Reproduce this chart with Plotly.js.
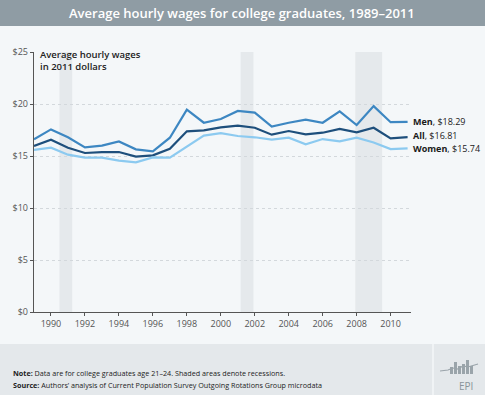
<!DOCTYPE html>
<html>
<head>
<meta charset="utf-8">
<script src="https://cdn.plot.ly/plotly-3.0.1.min.js"></script>
<style>html,body{margin:0;padding:0;background:#f4f7f9;}#chart{width:485px;height:395px;}</style>
</head>
<body>
<div id="chart"></div>
<script>
var years = [1989,1990,1991,1992,1993,1994,1995,1996,1997,1998,1999,2000,2001,2002,2003,2004,2005,2006,2007,2008,2009,2010,2011];
var men   = [16.60,17.56,16.80,15.83,16.00,16.40,15.64,15.45,16.76,19.45,18.20,18.56,19.33,19.17,17.82,18.20,18.50,18.20,19.30,17.98,19.80,18.25,18.29];
var all   = [15.96,16.57,15.80,15.29,15.38,15.38,14.94,15.06,15.70,17.37,17.47,17.76,17.92,17.72,17.05,17.40,17.08,17.24,17.60,17.28,17.72,16.70,16.81];
var women = [15.58,15.80,15.13,14.84,14.84,14.55,14.39,14.87,14.84,15.87,16.96,17.20,16.92,16.80,16.57,16.76,16.12,16.63,16.40,16.76,16.30,15.67,15.74];
var seriesNames = ["Men","All","Women"];
var endLabels = ["$18.29","$16.81","$15.74"];
var recessions = [[1990.5,1991.25],[2001.17,2001.92],[2007.92,2009.5]];
var yTicks = [0,5,10,15,20,25];
var yTickText = ["$0","$5","$10","$15","$20","$25"];
var xTicks = [1990,1992,1994,1996,1998,2000,2002,2004,2006,2008,2010];

var colors = ["#3d87c2","#1e4f7c","#8ccaf0"];
var W=485,H=395,L=34,R=74,T=52,B=83;
var pw=W-L-R, ph=H-T-B;
function px(x){return (x-L)/pw;}
function py(y){return (H-B-y)/ph;}
var font = "Open Sans, Lato, sans-serif";

var data = [men,all,women].map(function(v,i){
  return {x:years,y:v,type:'scatter',mode:'lines',name:seriesNames[i],
    line:{color:colors[i],width:2.2},hoverinfo:'skip'};
});

var shapes = [];
shapes.push({type:'rect',xref:'paper',yref:'paper',x0:px(0),x1:px(W),y0:py(26),y1:py(0),fillcolor:'#8f9ca4',line:{width:0},layer:'below'});
shapes.push({type:'rect',xref:'paper',yref:'paper',x0:px(0),x1:px(W),y0:py(H),y1:py(344),fillcolor:'#e4e8eb',line:{width:0},layer:'below'});
shapes.push({type:'line',xref:'paper',yref:'paper',x0:px(433),x1:px(433),y0:py(H),y1:py(344),line:{color:'#f4f7f9',width:1.5}});
recessions.forEach(function(r){
  shapes.push({type:'rect',xref:'x',yref:'y',x0:r[0],x1:r[1],y0:0,y1:25,fillcolor:'#e5e9ec',line:{width:0},layer:'below'});
});
var bars=[[450,367],[454,362],[458,366],[462,364],[466,360],[470,366]];
bars.forEach(function(b){
  shapes.push({type:'rect',xref:'paper',yref:'paper',x0:px(b[0]),x1:px(b[0]+3),y0:py(374),y1:py(b[1]),fillcolor:'#9aa4aa',line:{width:0}});
});
shapes.push({type:'path',xref:'paper',yref:'paper',
  path:'M '+px(440)+' '+py(371)+' L '+px(448)+' '+py(370)+' L '+px(453)+' '+py(368)+' L '+px(458)+' '+py(369)+' L '+px(463)+' '+py(366)+' L '+px(468)+' '+py(367)+' L '+px(478)+' '+py(364),
  line:{color:'#9aa4aa',width:1.2}});

var annotations = [];
annotations.push({xref:'paper',yref:'paper',x:px(242),y:py(13),text:'Average hourly wages for college graduates, 1989–2011',showarrow:false,xanchor:'center',yanchor:'middle',font:{family:font,size:13,color:'#ffffff',weight:600}});
annotations.push({xref:'paper',yref:'paper',x:px(38),y:py(46),text:'Average hourly wages<br>in 2011 dollars',showarrow:false,xanchor:'left',yanchor:'top',align:'left',font:{family:font,size:9.5,color:'#222',weight:600}});
var lastVals=[men[men.length-1],all[all.length-1],women[women.length-1]];
var labelShift=[0,2,0];
seriesNames.forEach(function(n,i){
  annotations.push({xref:'x',yref:'y',x:years[years.length-1],y:lastVals[i],xshift:3,yshift:labelShift[i],text:'<b>'+n+'</b>, '+endLabels[i],showarrow:false,xanchor:'left',yanchor:'middle',font:{family:font,size:9,color:'#1a1a1a'}});
});
annotations.push({xref:'paper',yref:'paper',x:px(11),y:py(373),text:'<b>Note:</b> Data are for college graduates age 21–24. Shaded areas denote recessions.',showarrow:false,xanchor:'left',yanchor:'middle',font:{family:font,size:7.2,color:'#222'}});
annotations.push({xref:'paper',yref:'paper',x:px(11),y:py(385),text:'<b>Source:</b> Authors\u2019 analysis of Current Population Survey Outgoing Rotations Group microdata',showarrow:false,xanchor:'left',yanchor:'middle',font:{family:font,size:7.2,color:'#222'}});
annotations.push({xref:'paper',yref:'paper',x:px(466),y:py(386),text:'EPI',showarrow:false,xanchor:'center',yanchor:'middle',font:{family:font,size:10,color:'#8a949a'}});

var layout = {
  width:W,height:H,margin:{l:L,r:R,t:T,b:B,pad:0},
  paper_bgcolor:'#f4f7f9',plot_bgcolor:'rgba(0,0,0,0)',
  showlegend:false,
  xaxis:{range:[1989,2011.2],tickvals:xTicks,ticks:'outside',ticklen:3,tickcolor:'#555',
    showline:true,linecolor:'#555',linewidth:1.2,showgrid:false,zeroline:false,
    tickfont:{family:font,size:9,color:'#555'}},
  yaxis:{range:[0,25],tickvals:yTicks,ticktext:yTickText,ticks:'outside',ticklen:3,tickcolor:'#555',
    showline:true,linecolor:'#555',linewidth:1.2,showgrid:true,gridcolor:'#d3d8dc',griddash:'dot',gridwidth:1,
    zeroline:false,tickfont:{family:font,size:9,color:'#555'}},
  shapes:shapes,annotations:annotations
};
Plotly.newPlot('chart',data,layout,{staticPlot:true,displayModeBar:false});
</script>
</body>
</html>
